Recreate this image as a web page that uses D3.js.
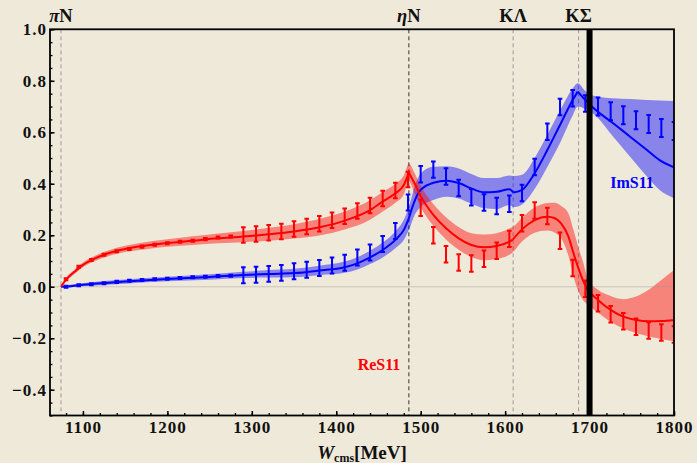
<!DOCTYPE html>
<html>
<head>
<meta charset="utf-8">
<script src="https://cdn.jsdelivr.net/npm/d3@7"></script>
<style>
  html, body { margin: 0; padding: 0; background: #efe9d9; }
  svg text { font-family: "Liberation Serif", "Times New Roman", serif; font-weight: bold; }
</style>
</head>
<body>
<div class="chart"></div>
<script>
// measured points (MeV)
var W = [1080,1095,1110,1125,1140,1155,1170,1185,1200,1215,1230,1245,1260,1275,1290,1305,1320,1335,1350,1365,
         1380,1395,1410,1425,1440,1455,1470,1485,1500,1515,1530,1545,1560,1575,1590,1605,1620,1635,1650,1665,
         1680,1695,1710,1725,1740,1755,1770,1785,1800];
var reS11 = [0.029,0.078,0.104,0.124,0.138,0.147,0.156,0.163,0.169,0.175,0.179,0.185,0.191,0.195,0.201,0.205,0.210,0.215,0.224,0.234,
             0.245,0.258,0.274,0.294,0.316,0.343,0.374,0.417,0.307,0.200,0.126,0.094,0.090,0.109,0.140,0.186,0.247,0.296,0.275,0.179,
             0.073,-0.008,-0.064,-0.107,-0.134,-0.155,-0.170,-0.178,-0.185];
var reErr = [0.004,0.004,0.004,0.004,0.004,0.004,0.004,0.004,0.004,0.004,0.004,0.004,0.004,0.004,0.030,0.030,0.030,0.030,0.030,0.030,
             0.030,0.030,0.030,0.030,0.030,0.030,0.030,0.030,0.032,0.032,0.032,0.032,0.032,0.032,0.032,0.032,0.032,0.032,0.032,0.032,
             0.032,0.032,0.032,0.032,0.032,0.032,0.032,0.032,0.032];
var imS11 = [0.000,0.006,0.010,0.014,0.019,0.023,0.026,0.029,0.031,0.034,0.037,0.039,0.042,0.043,0.045,0.047,0.050,0.054,0.060,0.066,
             0.073,0.083,0.093,0.114,0.133,0.166,0.217,0.327,0.437,0.455,0.428,0.384,0.348,0.327,0.314,0.322,0.364,0.465,0.602,0.698,
             0.732,0.712,0.700,0.682,0.666,0.647,0.632,0.617,0.605];
var imErr = [0.004,0.004,0.004,0.004,0.004,0.004,0.004,0.004,0.004,0.004,0.004,0.004,0.004,0.004,0.031,0.031,0.031,0.031,0.031,0.031,
             0.031,0.031,0.031,0.031,0.031,0.031,0.031,0.031,0.032,0.032,0.032,0.032,0.032,0.032,0.032,0.032,0.032,0.032,0.032,0.032,
             0.032,0.032,0.035,0.035,0.035,0.035,0.035,0.035,0.035];

// fit curves and their error bands
var fitReW = [1074,1080,1090,1100,1115,1130,1150,1175,1200,1230,1260,1290,1320,1350,1380,1410,1440,1455,1470,1480,
              1486,1493,1500,1515,1530,1545,1560,1575,1590,1605,1609,1620,1635,1650,1659,1666,1675,1681,1687,1692,
              1698,1710,1725,1740,1755,1770,1785,1800];
var fitRe   = [0,0.028,0.058,0.085,0.111,0.130,0.147,0.160,0.170,0.179,0.188,0.195,0.204,0.215,0.231,0.257,0.298,0.331,0.363,0.395,
              0.443,0.40,0.352,0.279,0.227,0.188,0.162,0.153,0.158,0.175,0.183,0.223,0.259,0.272,0.266,0.247,0.195,0.13,0.07,0.026,
              -0.012,-0.051,-0.090,-0.116,-0.129,-0.134,-0.133,-0.129];
var fitReHi = [0,0.034,0.066,0.094,0.121,0.141,0.159,0.174,0.185,0.196,0.207,0.217,0.229,0.243,0.263,0.292,0.336,0.368,0.400,0.432,
              0.478,0.44,0.392,0.321,0.270,0.232,0.208,0.203,0.208,0.226,0.232,0.268,0.308,0.325,0.326,0.315,0.285,0.22,0.15,0.10,
              0.03,-0.012,-0.036,-0.048,-0.038,-0.012,0.026,0.065];
var fitReLo = [0,0.022,0.050,0.076,0.101,0.119,0.135,0.146,0.155,0.162,0.169,0.173,0.179,0.187,0.199,0.222,0.260,0.292,0.326,0.358,
              0.408,0.36,0.31,0.237,0.184,0.144,0.116,0.103,0.108,0.124,0.134,0.176,0.21,0.219,0.21,0.19,0.12,0.04,-0.02,-0.05,
              -0.07,-0.10,-0.137,-0.162,-0.18,-0.193,-0.203,-0.212];
var reCusps = [1486, 1609];

var fitImW = [1074,1080,1100,1150,1200,1250,1290,1320,1350,1380,1410,1425,1440,1455,1470,1480,1486,1493,1500,1515,
              1531,1546,1560,1575,1590,1605,1610,1620,1635,1650,1666,1680,1686,1695,1705,1728,1748,1768,1783,1800];
var fitIm   = [0,0.001,0.008,0.020,0.030,0.038,0.046,0.050,0.053,0.063,0.076,0.091,0.114,0.143,0.182,0.221,0.266,0.335,0.376,0.404,
              0.412,0.402,0.382,0.367,0.369,0.379,0.366,0.376,0.441,0.531,0.635,0.725,0.758,0.725,0.693,0.635,0.583,0.531,0.492,0.464];
var fitImHi = [0,0.005,0.014,0.028,0.039,0.049,0.058,0.065,0.070,0.082,0.098,0.115,0.140,0.172,0.215,0.26,0.31,0.39,0.44,0.466,
              0.468,0.458,0.438,0.422,0.422,0.432,0.43,0.435,0.50,0.59,0.69,0.77,0.79,0.76,0.742,0.732,0.729,0.725,0.723,0.722];
var fitImLo = [0,-0.003,0.002,0.012,0.021,0.027,0.034,0.036,0.037,0.045,0.054,0.067,0.088,0.114,0.150,0.182,0.22,0.28,0.31,0.337,
              0.350,0.342,0.322,0.305,0.302,0.318,0.31,0.32,0.38,0.465,0.565,0.665,0.70,0.69,0.67,0.583,0.505,0.428,0.376,0.344];
var imCusps = [1486, 1610, 1686];

// thresholds
var thrLabels = ["πN", "ηN", "KΛ", "KΣ"];
var thrW = [1074, 1486, 1609.5, 1687];
var thrColor = ["#9a9a9a", "#333333", "#9a9a9a", "#9a9a9a"];
var kSigmaLine = 1700;

var xTicks = [1100, 1200, 1300, 1400, 1500, 1600, 1700, 1800];
var xMinor = d3.range(1080, 1801, 20);
var yTicks = [-0.4, -0.2, 0.0, 0.2, 0.4, 0.6, 0.8, 1.0];
var yMinor = d3.range(-0.5, 1.001, 0.05);

var width = 697, height = 463;
var margin = { top: 29.3, right: 23, bottom: 47.5, left: 50 };

var svg = d3.select(".chart").append("svg")
  .attr("width", width).attr("height", height);

svg.append("rect").attr("width", width).attr("height", height).attr("fill", "#efe9d9");

var x = d3.scaleLinear().domain([1061, 1800]).range([margin.left, width - margin.right]);
var y = d3.scaleLinear().domain([-0.5, 1.0]).range([height - margin.bottom, margin.top]);

svg.append("clipPath").attr("id", "plot")
  .append("rect").attr("x", x.range()[0]).attr("y", y.range()[1])
  .attr("width", x.range()[1] - x.range()[0]).attr("height", y.range()[0] - y.range()[1]);

var plot = svg.append("g").attr("clip-path", "url(#plot)");

// threshold lines
thrW.forEach(function(w, i) {
  plot.append("line")
    .attr("x1", x(w)).attr("x2", x(w))
    .attr("y1", y.range()[1]).attr("y2", y.range()[0])
    .attr("stroke", thrColor[i]).attr("stroke-width", 1)
    .attr("stroke-dasharray", "4,3");
});

function idx(a) { return a.map(function(d, i) { return i; }); }

function band(ws, hi, lo, color) {
  var area = d3.area()
    .x(function(i) { return x(ws[i]); })
    .y0(function(i) { return y(lo[i]); })
    .y1(function(i) { return y(hi[i]); })
    .curve(d3.curveMonotoneX);
  plot.append("path").datum(idx(ws)).attr("d", area)
    .attr("fill", color).attr("fill-opacity", 0.43);
}

function fitLine(ws, vs, cusps, color) {
  var segs = [], cur = [];
  ws.forEach(function(w, i) {
    cur.push([w, vs[i]]);
    if (cusps.indexOf(w) >= 0) { segs.push(cur); cur = [[w, vs[i]]]; }
  });
  segs.push(cur);
  var line = d3.line()
    .x(function(d) { return x(d[0]); })
    .y(function(d) { return y(d[1]); })
    .curve(d3.curveMonotoneX);
  plot.selectAll(null).data(segs).enter().append("path")
    .attr("d", line).attr("fill", "none")
    .attr("stroke", color).attr("stroke-width", 2);
}

function errorBars(vals, errs, color) {
  var g = plot.append("g").attr("stroke", color).attr("stroke-width", 2);
  var d = W.map(function(w, i) { return { w: w, v: vals[i], e: errs[i] }; });
  var cap = 2.3;
  g.selectAll(null).data(d).enter().append("line")
    .attr("x1", function(p) { return x(p.w); }).attr("x2", function(p) { return x(p.w); })
    .attr("y1", function(p) { return y(p.v - p.e); }).attr("y2", function(p) { return y(p.v + p.e); });
  [1, -1].forEach(function(s) {
    g.selectAll(null).data(d).enter().append("line")
      .attr("x1", function(p) { return x(p.w) - cap; }).attr("x2", function(p) { return x(p.w) + cap; })
      .attr("y1", function(p) { return y(p.v + s * p.e); }).attr("y2", function(p) { return y(p.v + s * p.e); });
  });
}

band(fitImW, fitImHi, fitImLo, "#0000ff");
band(fitReW, fitReHi, fitReLo, "#ff0000");

// zero line
plot.append("line")
  .attr("x1", x.range()[0]).attr("x2", x.range()[1])
  .attr("y1", y(0)).attr("y2", y(0))
  .attr("stroke", "#a09c94").attr("stroke-opacity", 0.45).attr("stroke-width", 1);

fitLine(fitImW, fitIm, imCusps, "#0000ff");
fitLine(fitReW, fitRe, reCusps, "#ff0000");
errorBars(imS11, imErr, "#0000ff");
errorBars(reS11, reErr, "#ff0000");

// K Sigma line
plot.append("line")
  .attr("x1", x(kSigmaLine)).attr("x2", x(kSigmaLine))
  .attr("y1", y.range()[1]).attr("y2", y.range()[0])
  .attr("stroke", "#000").attr("stroke-width", 6);

// frame
svg.append("rect")
  .attr("x", x.range()[0]).attr("y", y.range()[1])
  .attr("width", x.range()[1] - x.range()[0]).attr("height", y.range()[0] - y.range()[1])
  .attr("fill", "none").attr("stroke", "#000").attr("stroke-width", 1.8);

function fmt(d) {
  var s = Math.abs(d).toFixed(1);
  return d < -1e-9 ? "\u2212" + s : s;
}

// y axis
svg.append("g").attr("transform", "translate(" + x.range()[0] + ",0)")
  .call(d3.axisLeft(y).tickValues(yMinor).tickSize(-2.5).tickFormat(""))
  .call(function(g) { g.select(".domain").remove(); g.selectAll("line").attr("stroke-width", 1.3); });
svg.append("g").attr("transform", "translate(" + x.range()[0] + ",0)")
  .call(d3.axisLeft(y).tickValues(yTicks).tickSize(-4.5).tickPadding(3).tickFormat(fmt))
  .call(function(g) {
    g.select(".domain").remove();
    g.selectAll("line").attr("stroke-width", 1.5);
    g.selectAll("text").attr("font-family", null).attr("font-size", 17)
      .style("letter-spacing", "1px").attr("fill", "#111");
  });

// x axis
svg.append("g").attr("transform", "translate(0," + y.range()[0] + ")")
  .call(d3.axisBottom(x).tickValues(xMinor).tickSize(-2.5).tickFormat(""))
  .call(function(g) { g.select(".domain").remove(); g.selectAll("line").attr("stroke-width", 1.3); });
svg.append("g").attr("transform", "translate(0," + y.range()[0] + ")")
  .call(d3.axisBottom(x).tickValues(xTicks).tickSize(-4.5).tickPadding(5).tickFormat(d3.format("d")))
  .call(function(g) {
    g.select(".domain").remove();
    g.selectAll("line").attr("stroke-width", 1.5);
    g.selectAll("text").attr("font-family", null).attr("font-size", 17)
      .style("letter-spacing", "1px").attr("fill", "#111");
  });

// axis title
var xt = svg.append("text")
  .attr("x", (x.range()[0] + x.range()[1]) / 2).attr("y", 458.5)
  .attr("text-anchor", "middle").attr("font-size", 19).attr("fill", "#111");
xt.append("tspan").attr("font-style", "italic").text("W");
xt.append("tspan").attr("font-size", 12).attr("dy", 3).text("cms");
xt.append("tspan").attr("dy", -3).text("[MeV]");

// threshold labels
thrLabels.forEach(function(lab, i) {
  var t = svg.append("text")
    .attr("x", x(thrW[i])).attr("y", 22)
    .attr("text-anchor", "middle").attr("font-size", 18.5).attr("fill", "#111");
  var first = lab.charAt(0);
  t.append("tspan").attr("font-style", (first === "π" || first === "η") ? "italic" : null).text(first);
  t.append("tspan").text(lab.slice(1));
});

// series labels
svg.append("text").attr("x", 632).attr("y", 188).attr("text-anchor", "middle")
  .attr("font-size", 16).attr("fill", "#0000ff").text("ImS11");
svg.append("text").attr("x", 379).attr("y", 370).attr("text-anchor", "middle")
  .attr("font-size", 16).attr("fill", "#ff0000").text("ReS11");
</script>
</body>
</html>
